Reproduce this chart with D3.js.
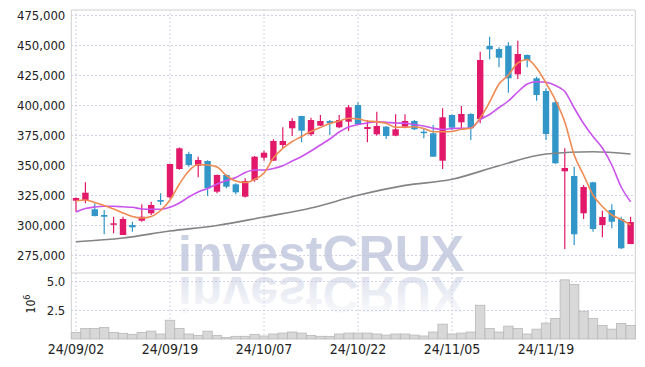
<!DOCTYPE html>
<html><head><meta charset="utf-8">
<script src="https://cdn.jsdelivr.net/npm/d3@7"></script>
<style>
html,body{margin:0;padding:0;background:#fff;}
svg{display:block;}
text{font-family:"DejaVu Sans Condensed","Liberation Sans Narrow",sans-serif;font-stretch:condensed;}
</style></head>
<body><svg id="c" width="645" height="367" xmlns:xlink="http://www.w3.org/1999/xlink"></svg>
<script>
const dates = ["24/09/02","24/09/03","24/09/04","24/09/05","24/09/06","24/09/09","24/09/10","24/09/11","24/09/12","24/09/13",
"24/09/19","24/09/20","24/09/23","24/09/24","24/09/25","24/09/26","24/09/27","24/09/30","24/10/02","24/10/04",
"24/10/07","24/10/08","24/10/10","24/10/11","24/10/14","24/10/15","24/10/16","24/10/17","24/10/18","24/10/21",
"24/10/22","24/10/23","24/10/24","24/10/25","24/10/28","24/10/29","24/10/30","24/10/31","24/11/01","24/11/04",
"24/11/05","24/11/06","24/11/07","24/11/08","24/11/11","24/11/12","24/11/13","24/11/14","24/11/15","24/11/18",
"24/11/19","24/11/20","24/11/21","24/11/22","24/11/25","24/11/26","24/11/27","24/11/28","24/11/29","24/12/02"];
const open  = [320250,320833,313083,308333,301000,291667,300000,303583,309750,320833,
323083,346667,359167,349417,353333,327750,341667,333917,323583,337500,
356083,353583,366667,380583,390833,375583,382750,386667,381417,386083,
400000,380000,375583,381917,374417,381917,386667,377750,376417,353583,
391667,385583,392500,388333,449167,446667,449417,425583,441667,422250,
411667,402250,344750,340833,309750,335583,300000,312500,305000,284167];
const high  = [323000,335583,318083,312500,306917,306917,302750,317250,319417,326417,
351000,364500,361083,356917,354000,342000,342000,334750,338917,357500,
361917,371417,381417,388917,391000,389417,391667,387500,391667,400000,
402250,387500,394417,382500,392250,392250,387500,380583,383333,397250,
392000,399167,393083,444417,456917,448083,452250,453583,442000,423583,
413917,404167,363917,348583,333333,336083,311917,317250,306917,306917];
const low   = [311083,318083,307000,292250,293083,291667,294417,302750,308333,316667,
322000,346000,348583,339750,324167,326417,330583,325583,323000,336083,
353583,353333,363917,374167,368917,374167,382500,375000,380583,378333,
383333,368917,374417,371667,374000,380583,379167,372250,356917,346667,
379167,380583,370833,384750,438083,431417,410250,421667,431417,403583,
370833,351000,280000,283333,305000,294417,289750,297250,280000,284000];
const close = [322500,326917,307500,306917,301417,305000,298083,306917,316667,319417,
350833,363917,350000,354167,330583,341667,331917,327250,336667,356917,
360250,370000,370000,386667,378583,387500,386667,384750,387500,398083,
383917,381667,382500,374167,379750,386667,379750,377250,356917,389750,
381083,392500,380583,437500,446417,439417,422250,442500,437500,408333,
375833,351417,347500,292250,331667,296667,306667,302750,280583,302500];
const volume = [0.57,0.91,0.91,1.0,0.57,0.49,0.40,0.57,0.68,0.43,
1.62,0.91,0.43,0.31,0.68,0.31,0.14,0.23,0.23,0.40,
0.26,0.43,0.51,0.60,0.51,0.31,0.23,0.23,0.43,0.51,
0.51,0.51,0.43,0.34,0.43,0.43,0.34,0.26,0.60,1.28,
0.43,0.51,0.60,2.91,0.91,0.60,1.11,0.91,0.43,0.85,
1.37,1.77,5.10,4.70,2.39,1.77,1.17,0.85,1.34,1.17];
const maShort = [320250,320833,318750,316250,313333,310000,307083,305833,307083,312083,
320833,334167,345000,350417,350000,348333,341250,336667,335417,337917,
343333,355833,363750,369583,373750,377917,381250,384583,386667,388917,
388333,386667,386083,384750,381417,381417,381833,380417,377750,377750,
377917,379750,380583,389167,402500,417500,425000,435000,437917,430833,
418333,404167,385833,358333,341667,325000,315417,308333,304583,300000];
const maMid = [310833,313750,315000,315583,315583,315167,314750,313333,313083,313083,
314750,318333,323333,327500,330417,334167,337083,339583,343750,345833,
345833,347083,349333,353333,357083,361667,366667,371667,377500,381667,
383750,385000,386000,385583,385000,384750,383750,382500,380583,379583,
380417,380583,380833,387917,392083,397917,403333,410833,417500,419417,
418917,416250,411250,397500,384583,373750,364167,350000,331667,319417];
const maLongDates  = ["24/09/02","24/09/09","24/09/19","24/09/26","24/10/07","24/10/15","24/10/22","24/10/29","24/11/05","24/11/12","24/11/19","24/11/26","24/12/02"];
const maLongValues = [286083,289167,295000,299583,306667,314167,324750,333000,338083,349417,359167,361083,359167];
const priceTicks = [275000,300000,325000,350000,375000,400000,425000,450000,475000];
const volumeTicks = [2.5,5.0];
const dateTicks = ["24/09/02","24/09/19","24/10/07","24/10/22","24/11/05","24/11/19"];

const svg = d3.select("#c");
const L = 71.3, R = 635.3, T = 10, MID = 273, B = 339;
const x = d3.scaleBand().domain(dates).range([L, R]).padding(0);
const cx = d => x(d) + x.bandwidth() / 2;
const y = d3.scaleLinear().domain([260000, 479167]).range([MID, T]);
const yv = d3.scaleLinear().domain([0, 5.69]).range([B, MID]);
const UP = "#e2196a", DOWN = "#3396c8";
const gridColor = "#c4c6dc";

// watermark (with reflection drawn as a <use> clone)
const defs = svg.append("defs");
const grad = defs.append("linearGradient").attr("id","fade").attr("x1",0).attr("y1",0).attr("x2",0).attr("y2",1);
grad.append("stop").attr("offset","0%").attr("stop-color","#cbd0e3").attr("stop-opacity",0.0);
grad.append("stop").attr("offset","100%").attr("stop-color","#cbd0e3").attr("stop-opacity",0.75);
const wm = svg.append("g").attr("fill","#cbd0e3");
wm.append("text").attr("id","wmText").attr("x",178).attr("y",271).text("investCRUX")
  .style("font-family","'Liberation Sans',Arial,sans-serif").style("font-stretch","normal")
  .style("font-weight","bold").style("font-size","50px");
svg.append("use").attr("href","#wmText").attr("xlink:href","#wmText")
  .attr("transform","translate(0,548) scale(1,-1)").attr("fill","url(#fade)");

// grids + axes
function styleAxis(g, size){
  g.select(".domain").remove();
  g.selectAll(".tick line").attr("stroke",gridColor).attr("stroke-dasharray","1.5,2.5");
  g.selectAll(".tick text").attr("fill","#222").style("font-size",size+"px");
}
svg.append("g").attr("transform",`translate(${L},0)`)
  .call(d3.axisLeft(y).tickValues(priceTicks).tickFormat(d3.format(",")).tickSize(-(R-L)).tickPadding(6))
  .call(g=>styleAxis(g,13));
svg.append("g").attr("transform",`translate(${L},0)`)
  .call(d3.axisLeft(yv).tickValues(volumeTicks).tickFormat(d3.format(".1f")).tickSize(-(R-L)).tickPadding(6))
  .call(g=>styleAxis(g,13));
svg.append("g").attr("transform",`translate(0,${B})`)
  .call(d3.axisBottom(x).tickValues(dateTicks).tickSize(-(B-T)).tickPadding(5))
  .call(g=>styleAxis(g,14));

svg.append("text").attr("transform","translate(35,304) rotate(-90)").attr("text-anchor","middle")
  .attr("fill","#222").style("font-size","12px")
  .html('10<tspan dy="-5" font-size="9px">6</tspan>');

// borders
const bc = "#cfcfcf";
svg.append("line").attr("x1",L).attr("x2",L).attr("y1",T).attr("y2",B).attr("stroke",bc);
svg.append("line").attr("x1",R).attr("x2",R).attr("y1",T).attr("y2",B).attr("stroke",bc);
svg.append("line").attr("x1",L).attr("x2",R).attr("y1",T).attr("y2",T).attr("stroke",bc);
svg.append("line").attr("x1",L).attr("x2",R).attr("y1",MID).attr("y2",MID).attr("stroke",bc);

// volume bars
svg.append("g").selectAll("rect").data(dates).join("rect")
  .attr("x",d=>x(d)).attr("width",x.bandwidth())
  .attr("y",(d,i)=>yv(volume[i])).attr("height",(d,i)=>yv(0)-yv(volume[i]))
  .attr("fill","#d8d8d8").attr("stroke","#b9b9b9").attr("stroke-width",0.8);

// candles
const bw = 6.4;
const cg = svg.append("g").selectAll("g").data(dates).join("g");
cg.append("line").attr("x1",d=>cx(d)).attr("x2",d=>cx(d))
  .attr("y1",(d,i)=>y(high[i])).attr("y2",(d,i)=>y(low[i]))
  .attr("stroke",(d,i)=>close[i]>=open[i]?UP:DOWN).attr("stroke-width",1.2);
cg.append("rect").attr("x",d=>cx(d)-bw/2).attr("width",bw)
  .attr("y",(d,i)=>y(Math.max(open[i],close[i])))
  .attr("height",(d,i)=>Math.max(1.5, Math.abs(y(open[i])-y(close[i]))))
  .attr("fill",(d,i)=>close[i]>=open[i]?UP:DOWN);

// moving averages
const line = d3.line().curve(d3.curveMonotoneX);
svg.append("path").attr("d",line(maLongDates.map((d,i)=>[cx(d), y(maLongValues[i])])))
  .attr("fill","none").attr("stroke","#848484").attr("stroke-width",1.6);
svg.append("path").attr("d",line(dates.map((d,i)=>[cx(d), y(maMid[i])])))
  .attr("fill","none").attr("stroke","#c953ec").attr("stroke-width",1.6);
svg.append("path").attr("d",line(dates.map((d,i)=>[cx(d), y(maShort[i])])))
  .attr("fill","none").attr("stroke","#ef8a52").attr("stroke-width",1.6);
</script></body></html>
